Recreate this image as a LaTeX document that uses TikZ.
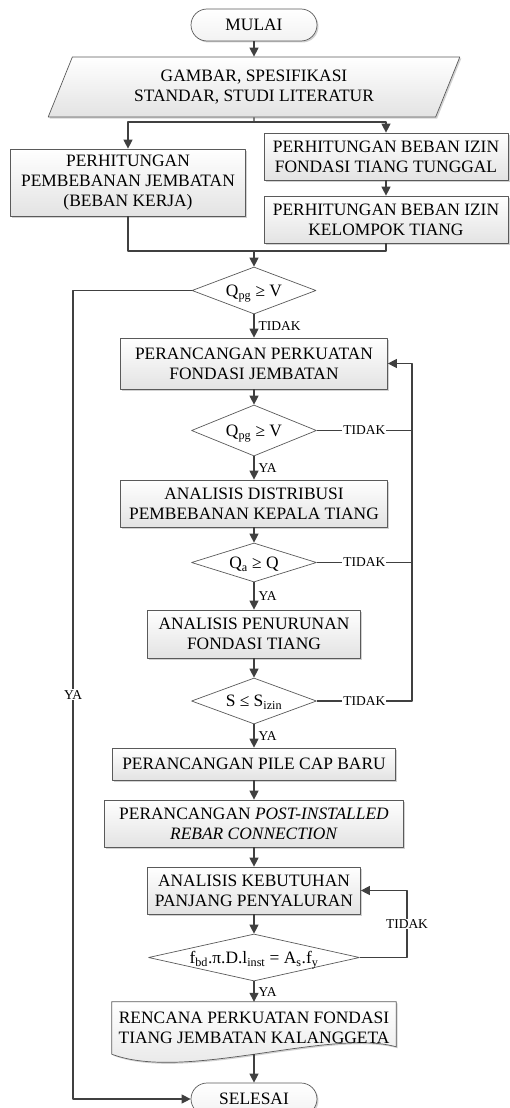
\documentclass[tikz,border=0pt]{standalone}
\usepackage{fontspec}
\setmainfont{Liberation Serif}
\usetikzlibrary{arrows.meta,shapes.geometric,shadows}
\pgfdeclarelayer{background}
\pgfsetlayers{background,main}
\definecolor{abu}{HTML}{404040}
\definecolor{tepi}{HTML}{5A5A5A}
\newcommand{\isi}[1]{\makebox[0pt]{\smash{\raisebox{-.34em}{#1}}}}
\begin{document}
\begin{tikzpicture}[x=1pt,y=-1pt,>={Stealth[length=9pt,width=9pt,inset=0pt]},line join=round,
	font=\fontsize{17.4}{20}\selectfont,
	bayang/.style={drop shadow={shadow xshift=1.5pt,shadow yshift=-1.5pt,fill=gray!70}},
	kotak/.style={rectangle,draw=tepi,line width=.7pt,top color=white,bottom color=gray!22,bayang,align=center,inner sep=0pt},
	masukan/.style={trapezium,trapezium left angle=65,trapezium right angle=115,trapezium stretches=true,draw=tepi,line width=.7pt,top color=white,bottom color=gray!22,bayang,align=center,inner sep=0pt,minimum width=412pt,minimum height=60pt},
	keputusan/.style={diamond,draw=tepi,line width=.7pt,fill=white,inner sep=0pt},
	terminal/.style={rectangle,rounded corners=16pt,draw=tepi,line width=.7pt,top color=white,bottom color=gray!10,bayang,minimum width=126pt,minimum height=32pt},
	hubung/.style={draw=abu,line width=1.2pt},
	alur/.style={hubung,->},
	ket/.style={font=\fontsize{13.5}{15}\selectfont,inner sep=1pt}]
	\useasboundingbox (0,0) rectangle (510,1108);
	\node[terminal] (mulai) at (254,25) {MULAI};
	\node[masukan] (data) at (254,87) {GAMBAR, SPESIFIKASI\\STANDAR, STUDI LITERATUR};
	\node[kotak,minimum width=235pt,minimum height=67pt] (beban) at (128,182.5) {PERHITUNGAN\\PEMBEBANAN JEMBATAN\\(BEBAN KERJA)};
	\node[kotak,minimum width=244pt,minimum height=47pt] (tunggal) at (386,156.5) {PERHITUNGAN BEBAN IZIN\\FONDASI TIANG TUNGGAL};
	\node[kotak,minimum width=244pt,minimum height=47pt] (kelompok) at (386,219.5) {PERHITUNGAN BEBAN IZIN\\KELOMPOK TIANG};
	\node[keputusan,minimum width=124pt,minimum height=47pt] (cek1) at (254,290.5) {\isi{Q\textsubscript{pg} ≥ V}};
	\node[kotak,minimum width=267pt,minimum height=51pt] (perkuatan) at (254,363.5) {PERANCANGAN PERKUATAN\\FONDASI JEMBATAN};
	\node[keputusan,minimum width=125pt,minimum height=51pt] (cek2) at (254,430.5) {\isi{Q\textsubscript{pg} ≥ V}};
	\node[kotak,minimum width=267pt,minimum height=47pt] (distribusi) at (254,503.5) {ANALISIS DISTRIBUSI\\PEMBEBANAN KEPALA TIANG};
	\node[keputusan,minimum width=125pt,minimum height=39pt] (cek3) at (254,562.5) {\isi{Q\textsubscript{a} ≥ Q}};
	\node[kotak,minimum width=213pt,minimum height=48pt] (penurunan) at (254,634) {ANALISIS PENURUNAN\\FONDASI TIANG};
	\node[keputusan,minimum width=125pt,minimum height=46pt] (cek4) at (254,701) {\isi{S ≤ S\textsubscript{izin}}};
	\node[kotak,minimum width=283pt,minimum height=32pt] (pilecap) at (254,764) {PERANCANGAN PILE CAP BARU};
	\node[kotak,minimum width=299pt,minimum height=47pt] (rebar) at (254,823.5) {PERANCANGAN \textit{POST-INSTALLED}\\\textit{REBAR CONNECTION}};
	\node[kotak,minimum width=213pt,minimum height=47pt] (kebutuhan) at (254,890.5) {ANALISIS KEBUTUHAN\\PANJANG PENYALURAN};
	\node[keputusan,minimum width=211pt,minimum height=47pt] (cek5) at (254,957.5) {\isi{f\textsubscript{bd}.π.D.l\textsubscript{inst} = A\textsubscript{s}.f\textsubscript{y}}};
	\node[align=center,inner sep=0pt,minimum width=284pt,minimum height=52pt] (rencana) at (254,1028) {RENCANA PERKUATAN FONDASI\\TIANG JEMBATAN KALANGGETA};
	\node[terminal] (selesai) at (254,1099) {SELESAI};
	% bentuk dokumen
	\begin{pgfonlayer}{background}
		\path[draw=tepi,line width=.7pt,top color=white,bottom color=gray!22,bayang] (rencana.north west) -- (rencana.north east) -- ++(0,45) .. controls (330,1028) and (185,1082) .. (rencana.south west) -- cycle;
	\end{pgfonlayer}
	\coordinate (cabang) at (254,122);
	\coordinate (gabung) at (254,251);
	\coordinate (kiri) at (73,290.5);
	\coordinate (kanan) at (412,363.5);
	\coordinate (ulang) at (407,890.5);
	\draw[alur] (mulai) -- (data);
	\draw[hubung] (data.south) -- (cabang);
	\draw[alur] (cabang) -| (beban.north);
	\draw[alur] (cabang) -| (tunggal.north);
	\draw[alur] (tunggal) -- (kelompok);
	\draw[hubung] (beban.south) |- (gabung) -| (kelompok.south);
	\draw[alur] (gabung) -- (cek1.north);
	\draw[alur] (cek1.west) -- (kiri) |- node[ket,pos=.25,fill=white]{YA} (selesai.west);
	\draw[alur] (cek1) -- node[ket,right,xshift=3pt]{TIDAK} (perkuatan);
	\draw[alur] (perkuatan) -- (cek2);
	\draw[hubung] (cek2.east) -- node[ket,fill=white]{TIDAK} (cek2.east -| kanan);
	\draw[alur] (cek2) -- node[ket,right,xshift=3pt]{YA} (distribusi);
	\draw[alur] (distribusi) -- (cek3);
	\draw[hubung] (cek3.east) -- node[ket,fill=white]{TIDAK} (cek3.east -| kanan);
	\draw[alur] (cek3) -- node[ket,right,xshift=3pt]{YA} (penurunan);
	\draw[alur] (penurunan) -- (cek4);
	\draw[alur] (cek4.east) -- node[ket,fill=white]{TIDAK} (cek4.east -| kanan) -- (kanan) -- (perkuatan.east);
	\draw[alur] (cek4) -- node[ket,right,xshift=3pt]{YA} (pilecap);
	\draw[alur] (pilecap) -- (rebar);
	\draw[alur] (rebar) -- (kebutuhan);
	\draw[alur] (kebutuhan) -- (cek5);
	\draw[alur] (cek5.east) -| node[ket,pos=.75,fill=white]{TIDAK} (ulang) -- (kebutuhan.east);
	\draw[alur] (cek5) -- node[ket,right,xshift=3pt]{YA} (rencana.north);
	\draw[alur] (rencana.south) -- (selesai);
\end{tikzpicture}
\end{document}
